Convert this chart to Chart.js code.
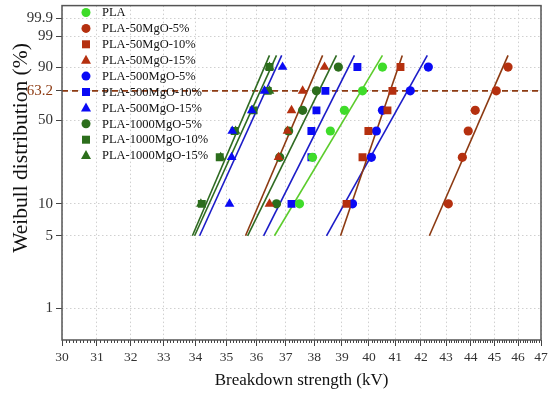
<!DOCTYPE html>
<html>
<head>
<meta charset="utf-8">
<script src="https://cdn.jsdelivr.net/npm/chart.js@4.4.1/dist/chart.umd.min.js"></script>
<style>
  html, body { margin: 0; padding: 0; background: #fff; }
  #wrap { width: 550px; height: 395px; }
</style>
</head>
<body>
<div id="wrap"><canvas id="chart"></canvas></div>
<script>
// --- DATA ---
// cumulative failure probability of each ranked sample (%)
const rankPct = [10, 26, 42, 58, 74, 90];
// fitted lines run from 5 % to 95 %
const fitPct = [5, 95];

const seriesNames = [
  'PLA', 'PLA-50MgO-5%', 'PLA-50MgO-10%', 'PLA-50MgO-15%',
  'PLA-500MgO-5%', 'PLA-500MgO-10%', 'PLA-500MgO-15%',
  'PLA-1000MgO-5%', 'PLA-1000MgO-10%', 'PLA-1000MgO-15%'
];

// breakdown strength (kV), one value per rank
const plaKV        = [37.48, 37.94, 38.58, 39.09, 39.76, 40.51];
const mg50_5KV     = [43.09, 43.66, 43.90, 44.19, 45.07, 45.57];
const mg50_10KV    = [39.17, 39.76, 39.98, 40.70, 40.89, 41.20];
const mg50_15KV    = [36.44, 36.75, 37.06, 37.20, 37.59, 38.37];
const mg500_5KV    = [39.39, 40.09, 40.28, 40.51, 41.58, 42.29];
const mg500_10KV   = [37.20, 37.90, 37.90, 38.08, 38.40, 39.57];
const mg500_15KV   = [35.10, 35.17, 35.19, 35.84, 36.27, 36.89];
const mg1000_5KV   = [36.68, 36.79, 37.10, 37.59, 38.08, 38.87];
const mg1000_10KV  = [34.20, 34.78, 35.27, 35.90, 36.38, 36.44];
const mg1000_15KV  = [34.17, 34.81, 35.30, 35.87, 36.44, 36.44];

// fitted line ends (kV at 5 % and at 95 %)
const plaFit       = [36.61, 40.51];
const mg50_5Fit    = [42.33, 45.57];
const mg50_10Fit   = [38.95, 41.27];
const mg50_15Fit   = [35.63, 38.30];
const mg500_5Fit   = [38.44, 42.25];
const mg500_10Fit  = [36.24, 39.46];
const mg500_15Fit  = [34.13, 36.86];
const mg1000_5Fit  = [35.70, 38.80];
const mg1000_10Fit = [33.90, 36.44];
const mg1000_15Fit = [33.97, 36.68];

const xTicks = [30, 31, 32, 33, 34, 35, 36, 37, 38, 39, 40, 41, 42, 43, 44, 45, 46, 47];
const yTickPct    = [1, 5, 10, 50, 74, 90, 99, 99.9];
const yTickLabels = ['1', '5', '10', '50', '63.2', '90', '99', '99.9'];
const refLinePct = 74; // the dashed "63.2" line, as placed in the figure

// --- STYLE ---
const FONT = "'Liberation Serif', 'Times New Roman', serif";
const LIME = '#3fdc2a', BROWN = '#b5300f', BROWN_LINE = '#8c3a12';
const BLUE = '#0a0af5', BLUE_LINE = '#1c1cc8', DKGREEN = '#2c6e1c', DKGREEN_LINE = '#2f6b22';

const kvSets = [plaKV, mg50_5KV, mg50_10KV, mg50_15KV, mg500_5KV, mg500_10KV, mg500_15KV, mg1000_5KV, mg1000_10KV, mg1000_15KV];
const fitSets = [plaFit, mg50_5Fit, mg50_10Fit, mg50_15Fit, mg500_5Fit, mg500_10Fit, mg500_15Fit, mg1000_5Fit, mg1000_10Fit, mg1000_15Fit];
const markColors = [LIME, BROWN, BROWN, BROWN, BLUE, BLUE, BLUE, DKGREEN, DKGREEN, DKGREEN];
const lineColors = ['#5ccc2c', BROWN_LINE, BROWN_LINE, BROWN_LINE, BLUE_LINE, BLUE_LINE, BLUE_LINE, DKGREEN_LINE, DKGREEN_LINE, DKGREEN_LINE];
const shapes = ['circle', 'circle', 'rect', 'triangle', 'circle', 'rect', 'triangle', 'circle', 'rect', 'triangle'];
const radii = { circle: 4.6, rect: 5.6, triangle: 5.6 };

// Weibull probability transform
const wb = p => Math.log(-Math.log(1 - p / 100));

const datasets = [];
seriesNames.forEach((name, i) => {
  datasets.push({
    label: name + ' fit',
    data: fitPct.map((p, j) => ({ x: fitSets[i][j], y: wb(p) })),
    showLine: true,
    borderColor: lineColors[i],
    borderWidth: 1.6,
    pointRadius: 0,
    order: 2
  });
});
seriesNames.forEach((name, i) => {
  datasets.push({
    label: name,
    data: rankPct.map((p, j) => ({ x: kvSets[i][j], y: wb(p) })),
    showLine: false,
    pointStyle: shapes[i],
    pointRadius: radii[shapes[i]],
    backgroundColor: markColors[i],
    borderColor: markColors[i],
    borderWidth: 0,
    order: 1
  });
});

// dashed reference line, frame, minor ticks, y title and legend
const extras = {
  id: 'extras',
  beforeDatasetsDraw(chart) {
    const { ctx, chartArea: a, scales } = chart;
    const y = scales.y.getPixelForValue(wb(refLinePct));
    ctx.save();
    ctx.strokeStyle = BROWN_LINE;
    ctx.lineWidth = 1.6;
    ctx.setLineDash([6, 4]);
    ctx.beginPath();
    ctx.moveTo(a.left, y);
    ctx.lineTo(a.right, y);
    ctx.stroke();
    ctx.restore();
  },
  afterDraw(chart) {
    const { ctx, chartArea: a, scales } = chart;
    ctx.save();
    // minor ticks on the x axis
    ctx.strokeStyle = '#444';
    ctx.lineWidth = 1;
    for (let k = 301; k < 470; k++) {
      if (k % 10 === 0) continue;
      const px = Math.round(scales.x.getPixelForValue(k / 10)) + 0.5;
      ctx.beginPath();
      ctx.moveTo(px, a.bottom);
      ctx.lineTo(px, a.bottom + 3);
      ctx.stroke();
    }
    // frame
    ctx.strokeStyle = '#555';
    ctx.lineWidth = 1.5;
    ctx.strokeRect(a.left, a.top, a.right - a.left, a.bottom - a.top);

    // y axis title (sits above the middle of the axis in the figure)
    ctx.save();
    ctx.translate(21, 148);
    ctx.rotate(-Math.PI / 2);
    ctx.font = '21.5px ' + FONT;
    ctx.fillStyle = '#111';
    ctx.textAlign = 'center';
    ctx.textBaseline = 'middle';
    ctx.fillText('Weibull distribution (%)', 0, 0);
    ctx.restore();

    // legend
    ctx.font = '12.5px ' + FONT;
    ctx.textBaseline = 'middle';
    seriesNames.forEach((name, i) => {
      const y = 12.5 + i * 15.9;
      const x = 86;
      ctx.fillStyle = markColors[i];
      ctx.beginPath();
      if (shapes[i] === 'circle') {
        ctx.arc(x, y, 4.5, 0, Math.PI * 2);
      } else if (shapes[i] === 'rect') {
        ctx.rect(x - 4, y - 4, 8, 8);
      } else {
        ctx.moveTo(x, y - 5.5);
        ctx.lineTo(x + 5, y + 3.5);
        ctx.lineTo(x - 5, y + 3.5);
        ctx.closePath();
      }
      ctx.fill();
      ctx.fillStyle = '#111';
      ctx.fillText(name, 102, y + 0.5);
    });
    ctx.restore();
  }
};

new Chart(document.getElementById('chart'), {
  type: 'scatter',
  data: { datasets },
  plugins: [extras],
  options: {
    responsive: true,
    maintainAspectRatio: false,
    animation: false,
    layout: { padding: { left: 0, right: 9, top: 3, bottom: 0 } },
    plugins: { legend: { display: false }, tooltip: { enabled: false } },
    scales: {
      x: {
        type: 'logarithmic',
        min: 30,
        max: 47,
        afterBuildTicks: s => { s.ticks = xTicks.map(v => ({ value: v })); },
        afterFit: s => { s.height = 55; s.paddingLeft = 0; s.paddingRight = 0; },
        ticks: {
          autoSkip: false,
          maxRotation: 0,
          padding: 3,
          color: '#333',
          font: { family: FONT, size: 13.5 },
          callback: v => String(v)
        },
        grid: {
          color: '#d0d0d0',
          tickColor: '#444',
          tickLength: 6
        },
        border: { display: false, dash: [1.5, 2.5] },
        title: {
          display: true,
          text: 'Breakdown strength (kV)',
          color: '#111',
          font: { family: FONT, size: 17 },
          padding: { top: 4 }
        }
      },
      y: {
        type: 'linear',
        min: -5.32,
        max: 2.22,
        afterBuildTicks: s => { s.ticks = yTickPct.map(p => ({ value: wb(p) })); },
        afterFit: s => { s.width = 62; s.paddingTop = 0; s.paddingBottom = 0; },
        ticks: {
          autoSkip: false,
          padding: 3,
          font: { family: FONT, size: 15 },
          color: ctx => (ctx.index === 4 ? BROWN_LINE : '#333'),
          callback: (v, i) => yTickLabels[i]
        },
        grid: {
          color: '#d0d0d0',
          tickColor: '#444',
          tickLength: 6
        },
        border: { display: false, dash: [1.5, 2.5] },
        title: { display: false }
      }
    }
  }
});
</script>
</body>
</html>
